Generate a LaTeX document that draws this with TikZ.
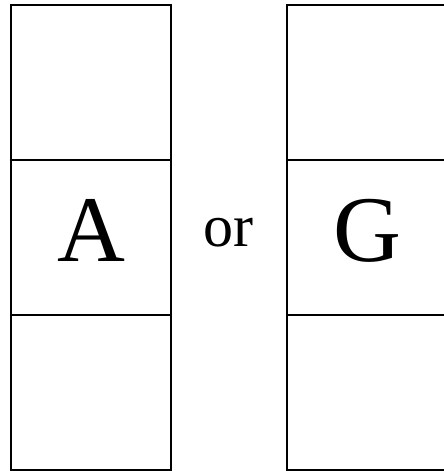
\documentclass[tikz,border=0pt]{standalone}
\usepackage{fontspec}
\setmainfont{Liberation Serif}
\begin{document}
\begin{tikzpicture}[x=1pt,y=1pt,
  cell/.style={draw=black,line width=2.2pt,minimum width=160pt,minimum height=155pt,inner sep=0pt,outer sep=0pt},
  big/.style={font=\fontsize{94}{94}\selectfont,inner sep=0pt},
  mid/.style={font=\fontsize{60}{60}\selectfont,inner sep=0pt}]
\useasboundingbox (0,0) rectangle (444,471);
\clip (0,0) rectangle (444,471);
% left column
\node[cell] (l1) at (91,388.5) {};
\node[cell] (l2) at (91,233.5) {};
\node[cell] (l3) at (91,78.5) {};
% right column
\node[cell] (r1) at (367,388.5) {};
\node[cell] (r2) at (367,233.5) {};
\node[cell] (r3) at (367,78.5) {};
% labels
\node[big,anchor=base] (a) at (91,209) {A};
\node[big,anchor=base] (g) at (367,209) {G};
\node[mid,anchor=base] (or) at (228,224) {or};
\end{tikzpicture}
\end{document}
